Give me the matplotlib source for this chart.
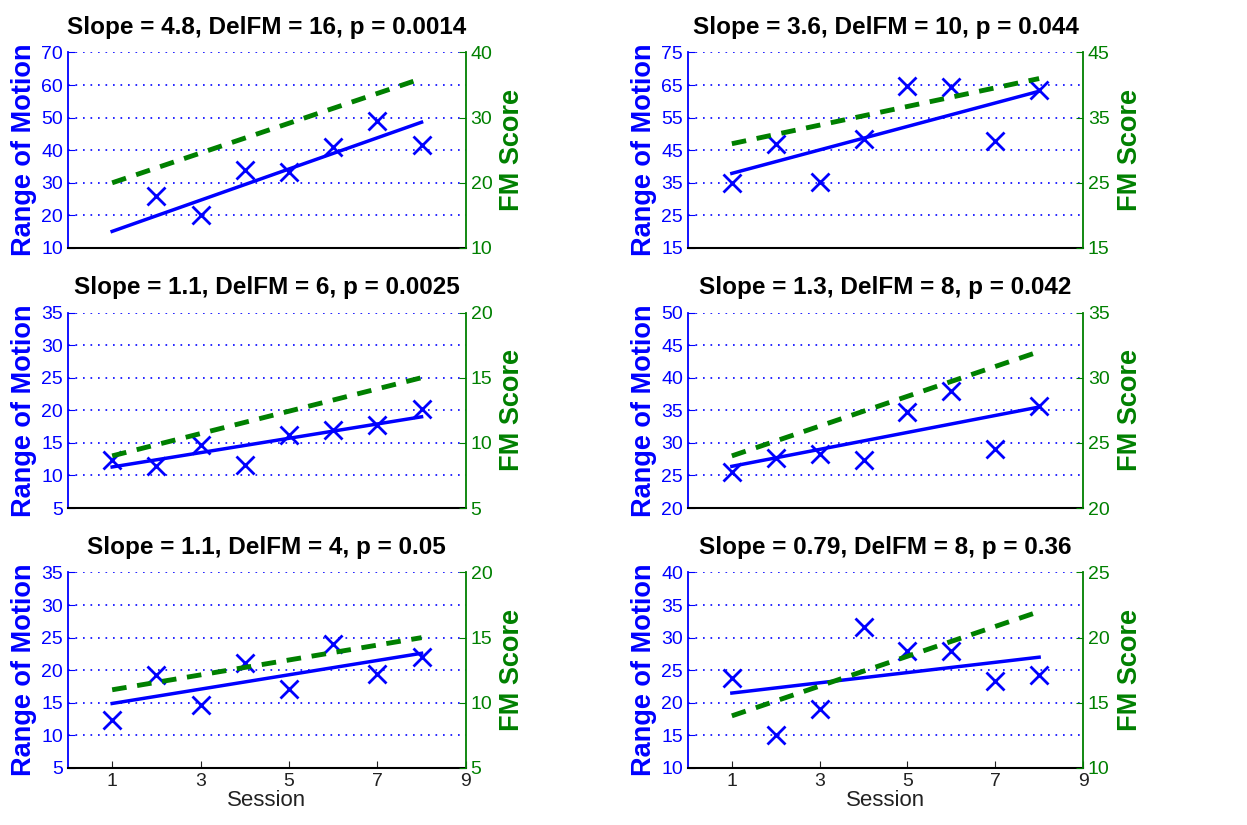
import numpy as np
import matplotlib
matplotlib.use("Agg")
import matplotlib.pyplot as plt

plt.rcParams['font.family'] = ['Liberation Sans', 'DejaVu Sans']

# sessions
sessions = [1, 2, 3, 4, 5, 6, 7, 8]

# range of motion per panel (None = no point shown)
rom = [
    [None, 26.0, 20.2, 33.9, 33.4, 41.0, 48.9, 41.5],
    [35.0, 46.8, 35.3, 48.6, 64.8, 64.5, 47.8, 63.5],
    [12.3, 11.4, 14.6, 11.6, 16.2, 16.9, 17.7, 20.2],
    [25.5, 27.7, 28.3, 27.4, 34.7, 37.9, 29.1, 35.6],
    [12.3, 19.3, 14.6, 21.1, 17.1, 24.0, 19.4, 22.1],
    [23.8, 15.1, 19.0, 31.7, 27.9, 28.0, 23.4, 24.3],
]
# fitted line at session 1 and session 8
fit_start = [15.1, 37.9, 11.3, 26.4, 14.9, 21.5]
fit_end = [48.6, 63.1, 19.0, 35.5, 22.6, 27.0]
# FM score first and last session
fm_start = [20, 31, 9, 24, 11, 14]
fm_end = [36, 41, 15, 32, 15, 22]

titles = ['Slope = 4.8, DelFM = 16, p = 0.0014',
          'Slope = 3.6, DelFM = 10, p = 0.044',
          'Slope = 1.1, DelFM = 6, p = 0.0025',
          'Slope = 1.3, DelFM = 8, p = 0.042',
          'Slope = 1.1, DelFM = 4, p = 0.05',
          'Slope = 0.79, DelFM = 8, p = 0.36']
rom_lim = [(10, 70, 10), (15, 75, 10), (5, 35, 5), (20, 50, 5), (5, 35, 5), (10, 40, 5)]
fm_lim = [(10, 40, 10), (15, 45, 10), (5, 20, 5), (20, 35, 5), (5, 20, 5), (10, 25, 5)]

blue = '#0000ff'
green = '#008000'

fig = plt.figure(figsize=(12.47, 8.25), dpi=100)

lefts = [0.0545, 0.5517]
bottoms = [0.6994, 0.3842, 0.0691]
w = [0.319, 0.3168]
h = 0.2370

for i in range(6):
    r, c = i // 2, i % 2
    ax = fig.add_axes([lefts[c], bottoms[r], w[c], h])
    ax2 = ax.twinx()

    x = [s for s, v in zip(sessions, rom[i]) if v is not None]
    y = [v for v in rom[i] if v is not None]
    ax.plot(x, y, 'x', color=blue, markersize=13, markeredgewidth=2, zorder=3)
    ax.plot([sessions[0], sessions[-1]], [fit_start[i], fit_end[i]], '-',
            color=blue, lw=2.5, zorder=3)
    ax2.plot([sessions[0], sessions[-1]], [fm_start[i], fm_end[i]], '--',
             color=green, lw=3.5, dashes=(3, 2.2))

    lo, hi, st = rom_lim[i]
    ax.set_ylim(lo, hi)
    ax.set_yticks(np.arange(lo, hi + 0.1, st))
    flo, fhi, fst = fm_lim[i]
    ax2.set_ylim(flo, fhi)
    ax2.set_yticks(np.arange(flo, fhi + 0.1, fst))
    ax.set_xlim(0, 9)
    ax.set_xticks([1, 3, 5, 7, 9])

    ax.grid(axis='y', color=blue, linestyle=(0, (1, 3.5)), lw=1.2)
    ax.set_axisbelow(True)

    for a in (ax, ax2):
        a.spines['top'].set_visible(False)
    ax.spines['left'].set_color(blue)
    ax.spines['left'].set_linewidth(1.3)
    ax.spines['bottom'].set_color('black')
    ax.spines['bottom'].set_linewidth(1.5)
    ax.spines['bottom'].set_zorder(5)
    ax2.spines['left'].set_visible(False)
    ax2.spines['right'].set_color(green)
    ax2.spines['right'].set_linewidth(1.3)
    ax.spines['right'].set_visible(False)
    ax2.spines['bottom'].set_visible(False)

    ax.tick_params(axis='y', colors=blue, labelsize=14, direction='in', length=5)
    ax2.tick_params(axis='y', colors=green, labelsize=14, direction='in', length=5)
    if r == 2:
        ax.tick_params(axis='x', labelsize=14, direction='in', length=5, colors='#222222')
        ax.set_xlabel('Session', fontsize=16, labelpad=0, color='#222222')
    else:
        ax.tick_params(axis='x', labelbottom=False, length=0)

    ax.set_ylabel('Range of Motion', fontsize=19.5, fontweight='bold', color=blue, labelpad=3)
    ax2.set_ylabel('FM Score', fontsize=19.5, fontweight='bold', color=green, labelpad=5)
    ax.set_title(titles[i], fontsize=17.5, fontweight='bold', pad=13)

fig.savefig('out.png', dpi=100)
